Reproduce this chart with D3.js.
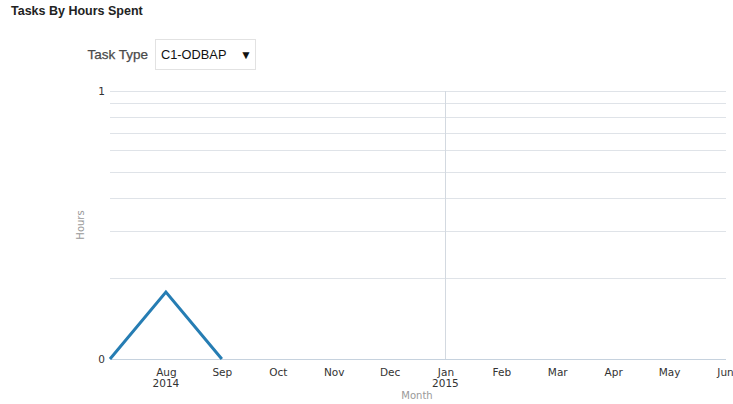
<!DOCTYPE html>
<html>
<head>
<meta charset="utf-8">
<script src="https://cdn.jsdelivr.net/npm/d3@7"></script>
<style>
  body { margin: 0; background: #fff; font-family: "Liberation Sans", Arial, sans-serif; }
  #chart { width: 733px; height: 404px; }
</style>
</head>
<body>
<div id="chart"></div>
<script>
const months = ["Jul", "Aug", "Sep", "Oct", "Nov", "Dec", "Jan", "Feb", "Mar", "Apr", "May", "Jun"];
const monthLabels = ["", "Aug", "Sep", "Oct", "Nov", "Dec", "Jan", "Feb", "Mar", "Apr", "May", "Jun"];
const yearLabels = [{ month: "Aug", text: "2014" }, { month: "Jan", text: "2015" }];
const hoursSeries = [0, 0.25, 0];       // Jul, Aug, Sep
const seriesMonths = ["Jul", "Aug", "Sep"];
const yTicks = [0, 1];
const yTickLabels = ["0", "1"];
const minorSteps = [2, 3, 4, 5, 6, 7, 8, 9];
const taskTypes = ["C1-ODBAP"];

const w = 733;
const h = 404;

const svg = d3.select("#chart")
    .append("svg")
    .attr("width", w)
    .attr("height", h)
    .style("font-family", "'Liberation Sans', Arial, sans-serif");

// title
svg.append("text")
    .attr("x", 11)
    .attr("y", 15)
    .attr("font-size", 12.5)
    .attr("font-weight", "bold")
    .attr("fill", "#222")
    .text("Tasks By Hours Spent");

// dropdown
svg.append("text")
    .attr("x", 148)
    .attr("y", 59)
    .attr("text-anchor", "end")
    .attr("font-size", 13.5)
    .attr("fill", "#4a4a4a")
    .attr("stroke", "#4a4a4a")
    .attr("stroke-width", 0.25)
    .text("Task Type");

svg.append("rect")
    .attr("x", 155.5)
    .attr("y", 39.5)
    .attr("width", 100)
    .attr("height", 30)
    .attr("fill", "#fff")
    .attr("stroke", "#e2e2e2");

svg.append("text")
    .attr("x", 161)
    .attr("y", 59)
    .attr("font-size", 12.8)
    .attr("fill", "#111")
    .text(taskTypes[0]);

svg.append("text")
    .attr("x", 246)
    .attr("y", 59)
    .attr("text-anchor", "middle")
    .attr("font-size", 12)
    .attr("fill", "#111")
    .text("\u25BC");

// scales
const xScale = d3.scalePoint()
    .domain(months)
    .range([110, 725]);

const yScale = d3.scaleLinear()
    .domain([0, 1])
    .range([359, 91]);

// gridlines (log-style minor lines)
const gridValues = minorSteps.map(k => Math.log10(k)).concat([1]);
svg.append("g")
    .selectAll("line")
    .data(gridValues)
    .enter()
    .append("line")
    .attr("x1", 110)
    .attr("x2", 726)
    .attr("y1", d => Math.round(yScale(d)) + 0.5)
    .attr("y2", d => Math.round(yScale(d)) + 0.5)
    .attr("stroke", "#dfe3e8")
    .attr("stroke-width", 1);

// year separator
svg.append("line")
    .attr("x1", Math.round(xScale("Jan")) + 0.5)
    .attr("x2", Math.round(xScale("Jan")) + 0.5)
    .attr("y1", yScale(1))
    .attr("y2", yScale(0))
    .attr("stroke", "#d3d9e0");

// x axis
const xAxis = d3.axisBottom(xScale)
    .tickSize(0)
    .tickPadding(9)
    .tickFormat((d, i) => monthLabels[i]);

const gx = svg.append("g")
    .attr("transform", `translate(0, ${Math.round(yScale(0)) + 0.5})`)
    .call(xAxis);
gx.select(".domain").attr("stroke", "#c6d2de").attr("d", "M110,0H726");
gx.selectAll("text").attr("fill", "#333")
    .attr("font-family", "'DejaVu Sans', sans-serif").style("font-size", "10.5px");

svg.append("g")
    .selectAll("text")
    .data(yearLabels)
    .enter()
    .append("text")
    .attr("x", d => xScale(d.month))
    .attr("y", 387)
    .attr("text-anchor", "middle")
    .attr("font-family", "'DejaVu Sans', sans-serif")
    .attr("font-size", 10.5)
    .attr("fill", "#333")
    .text(d => d.text);

svg.append("text")
    .attr("x", 417)
    .attr("y", 399)
    .attr("text-anchor", "middle")
    .attr("font-family", "'DejaVu Sans', sans-serif")
    .attr("font-size", 10)
    .attr("fill", "#999")
    .text("Month");

// y axis
const yAxis = d3.axisLeft(yScale)
    .tickValues(yTicks)
    .tickSize(0)
    .tickPadding(5)
    .tickFormat((d, i) => yTickLabels[i]);

const gy = svg.append("g")
    .attr("transform", "translate(110, 0)")
    .call(yAxis);
gy.select(".domain").remove();
gy.selectAll("text")
    .attr("font-family", "'DejaVu Sans', sans-serif")
    .style("font-size", "10.5px")
    .attr("fill", "#333");

svg.append("text")
    .attr("transform", `translate(84, ${225}) rotate(-90)`)
    .attr("text-anchor", "middle")
    .attr("font-family", "'DejaVu Sans', sans-serif")
    .attr("font-size", 10)
    .attr("fill", "#999")
    .text("Hours");

// series line
const line = d3.line()
    .x((d, i) => xScale(seriesMonths[i]))
    .y(d => yScale(d));

svg.append("path")
    .datum(hoursSeries)
    .attr("d", line)
    .attr("fill", "none")
    .attr("stroke", "#267db3")
    .attr("stroke-width", 3)
    .attr("stroke-linejoin", "miter");
</script>
</body>
</html>
